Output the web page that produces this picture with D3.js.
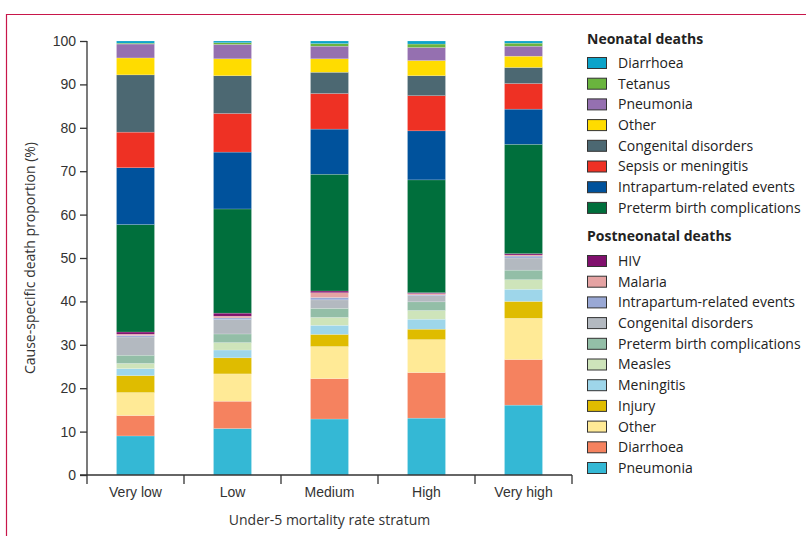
<!DOCTYPE html>
<html>
<head>
<meta charset="utf-8">
<script src="https://cdn.jsdelivr.net/npm/d3@7"></script>
<style>
  body { margin: 0; background: #fff; }
  svg { display: block; font-family: "Open Sans", "Noto Sans", sans-serif; }
</style>
</head>
<body>
<svg id="chart" width="806" height="536"></svg>
<script>
var categories = ["Very low", "Low", "Medium", "High", "Very high"];

// stacking order, bottom to top
var keys = ["pPneumonia", "pDiarrhoea", "pOther", "pInjury", "pMeningitis", "pMeasles",
    "pPreterm", "pCongenital", "pIntrapartum", "pMalaria", "pHIV",
    "nPreterm", "nIntrapartum", "nSepsis", "nCongenital", "nOther", "nPneumonia", "nTetanus", "nDiarrhoea"];

// values (%) per stratum, in the order of keys
var veryLow  = [9.0, 4.7, 5.3, 3.9, 1.6, 1.2, 1.9, 4.2, 0.35, 0.3, 0.5, 24.75, 13.1, 8.2, 13.2, 3.9, 3.2, 0.2, 0.5];
var low      = [10.7, 6.3, 6.3, 3.7, 1.8, 1.7, 2.0, 3.3, 0.4, 0.4, 0.7, 24.0, 13.1, 8.9, 8.7, 3.9, 3.3, 0.4, 0.4];
var medium   = [12.9, 9.3, 7.4, 2.8, 2.1, 1.8, 2.1, 1.95, 0.55, 1.1, 0.4, 26.9, 10.4, 8.2, 4.9, 3.1, 2.9, 0.6, 0.6];
var high     = [13.1, 10.5, 7.6, 2.4, 2.3, 2.0, 2.0, 1.4, 0.2, 0.3, 0.2, 26.0, 11.3, 8.1, 4.6, 3.5, 3.0, 0.8, 0.7];
var veryHigh = [16.1, 10.5, 9.5, 3.9, 2.8, 2.2, 2.2, 2.8, 0.45, 0.25, 0.3, 25.2, 8.1, 5.9, 3.7, 2.6, 2.3, 0.7, 0.5];

var yTicks = [0, 10, 20, 30, 40, 50, 60, 70, 80, 90, 100];

var neonatalKeys = ["nDiarrhoea", "nTetanus", "nPneumonia", "nOther", "nCongenital", "nSepsis", "nIntrapartum", "nPreterm"];
var neonatalLabels = ["Diarrhoea", "Tetanus", "Pneumonia", "Other", "Congenital disorders",
    "Sepsis or meningitis", "Intrapartum-related events", "Preterm birth complications"];
var postKeys = ["pHIV", "pMalaria", "pIntrapartum", "pCongenital", "pPreterm", "pMeasles",
    "pMeningitis", "pInjury", "pOther", "pDiarrhoea", "pPneumonia"];
var postLabels = ["HIV", "Malaria", "Intrapartum-related events", "Congenital disorders",
    "Preterm birth complications", "Measles", "Meningitis", "Injury", "Other", "Diarrhoea", "Pneumonia"];

var colors = {
    nDiarrhoea: "#0ba3c9", nTetanus: "#6ab43e", nPneumonia: "#9570b0", nOther: "#ffdc00",
    nCongenital: "#4c6872", nSepsis: "#ee3124", nIntrapartum: "#00529c", nPreterm: "#006f3c",
    pHIV: "#80106d", pMalaria: "#e5a3a3", pIntrapartum: "#99a8d5", pCongenital: "#b3b9c0",
    pPreterm: "#93bea7", pMeasles: "#cee4ba", pMeningitis: "#9ed6ea", pInjury: "#dfbc00",
    pOther: "#ffea96", pDiarrhoea: "#f5825f", pPneumonia: "#34b8d5"
};

var rows = [veryLow, low, medium, high, veryHigh].map(function(vals, i) {
    var r = { cat: categories[i] };
    keys.forEach(function(k, j) { r[k] = vals[j]; });
    return r;
});

var svg = d3.select("#chart");
var axisColor = "#333";

// frame (top and left rule)
svg.append("path")
    .attr("d", "M6.5,536 V14.5 H806")
    .attr("fill", "none")
    .attr("stroke", "#c8164a")
    .attr("stroke-width", 1.2);

var x = d3.scaleBand().domain(categories).range([87, 572]).padding(0);
var y = d3.scaleLinear().domain([0, 100]).range([475, 41]);
var barW = 38;

var series = d3.stack().keys(keys)(rows);

svg.append("g")
    .selectAll("g")
    .data(series)
    .join("g")
    .attr("fill", function(d) { return colors[d.key]; })
    .selectAll("rect")
    .data(function(d) { return d; })
    .join("rect")
    .attr("x", function(d) { return x(d.data.cat) + x.bandwidth() / 2 - barW / 2; })
    .attr("width", barW)
    .attr("y", function(d) { return y(d[1]); })
    .attr("height", function(d) { return y(d[0]) - y(d[1]); })
    .attr("stroke", "#fff")
    .attr("stroke-opacity", 0.35)
    .attr("stroke-width", 0.5);

// y axis
var yAxis = svg.append("g")
    .attr("transform", "translate(87,0)")
    .call(d3.axisLeft(y).tickValues(yTicks).tickSize(7).tickSizeOuter(0).tickPadding(4));
yAxis.select(".domain").remove();
yAxis.selectAll("line").attr("stroke", axisColor).attr("stroke-width", 1.3);
yAxis.selectAll("text").attr("font-size", 14).attr("fill", "#333").attr("font-family", "inherit");

svg.append("line")
    .attr("x1", 87).attr("x2", 87)
    .attr("y1", y(100)).attr("y2", 484)
    .attr("stroke", axisColor).attr("stroke-width", 1.3);

// x axis
var xAxis = svg.append("g")
    .attr("transform", "translate(0,475)")
    .call(d3.axisBottom(x).tickSize(0).tickPadding(12));
xAxis.select(".domain").remove();
xAxis.selectAll("text").attr("font-size", 14).attr("fill", "#333").attr("font-family", "inherit");

svg.append("line")
    .attr("x1", 80).attr("x2", 572)
    .attr("y1", 475).attr("y2", 475)
    .attr("stroke", axisColor).attr("stroke-width", 1.3);

svg.append("g")
    .selectAll("line")
    .data(categories.slice(1).concat(["end"]))
    .join("line")
    .attr("x1", function(d, i) { return x.range()[0] + x.step() * (i + 1); })
    .attr("x2", function(d, i) { return x.range()[0] + x.step() * (i + 1); })
    .attr("y1", 475).attr("y2", 484)
    .attr("stroke", axisColor).attr("stroke-width", 1.3);

svg.append("text")
    .attr("x", (x.range()[0] + x.range()[1]) / 2)
    .attr("y", 525)
    .attr("text-anchor", "middle")
    .attr("font-size", 14)
    .attr("fill", "#333")
    .text("Under-5 mortality rate stratum");

svg.append("text")
    .attr("transform", "translate(35," + y(50) + ") rotate(-90)")
    .attr("text-anchor", "middle")
    .attr("font-size", 14)
    .attr("fill", "#333")
    .text("Cause-specific death proportion (%)");

// legend
function legendBlock(title, ks, labels, top, first) {
    var g = svg.append("g").attr("transform", "translate(587," + top + ")");
    g.append("text")
        .attr("x", 0).attr("y", 0)
        .attr("font-size", 14).attr("font-weight", "bold").attr("fill", "#222")
        .text(title);
    var item = g.selectAll("g.item")
        .data(ks)
        .join("g")
        .attr("class", "item")
        .attr("transform", function(d, i) { return "translate(0," + (first + i * 20.7) + ")"; });
    item.append("rect")
        .attr("x", 0.5).attr("y", -5.5)
        .attr("width", 19).attr("height", 11)
        .attr("fill", function(d) { return colors[d]; })
        .attr("stroke", "#333").attr("stroke-width", 1);
    item.append("text")
        .attr("x", 31).attr("y", 0)
        .attr("dy", "0.35em")
        .attr("font-size", 14).attr("fill", "#222")
        .text(function(d, i) { return labels[i]; });
}

legendBlock("Neonatal deaths", neonatalKeys, neonatalLabels, 44, 19);
legendBlock("Postneonatal deaths", postKeys, postLabels, 241, 20);
</script>
</body>
</html>
